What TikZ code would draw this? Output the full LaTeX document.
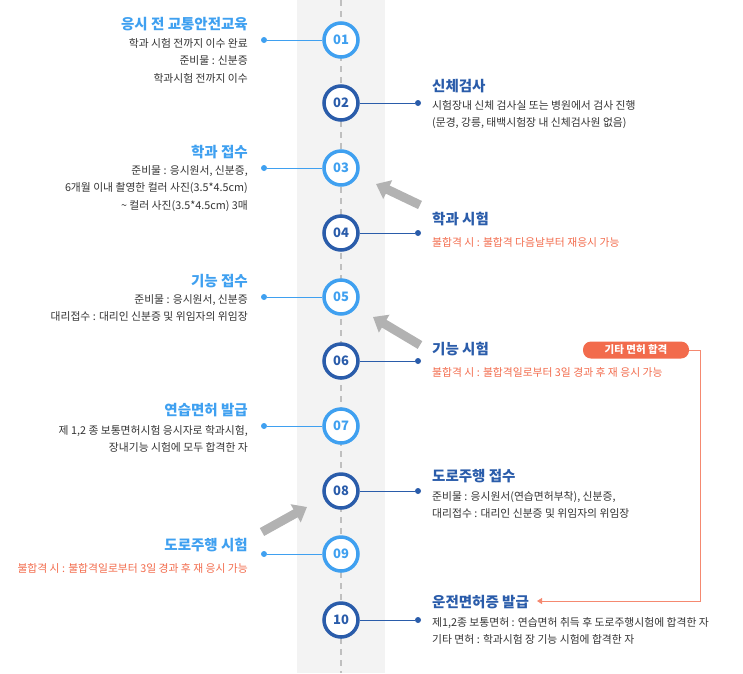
\documentclass[tikz,border=0pt]{standalone}
\usepackage{fontspec}
\setmainfont{Noto Sans CJK KR}
\usetikzlibrary{arrows.meta}
\definecolor{lblue}{HTML}{3FA0F0}
\definecolor{dblue}{HTML}{2A5CAA}
\definecolor{ored}{HTML}{F26B4C}
\definecolor{band}{HTML}{F3F3F3}
\tikzset{
  stepodd/.style={circle,draw=lblue,line width=3.5pt,fill=white,minimum size=34pt,text=lblue,font=\bfseries\fontsize{13}{13}\selectfont},
  stepeven/.style={circle,draw=dblue,line width=3.5pt,fill=white,minimum size=34pt,text=dblue,font=\bfseries\fontsize{13}{13}\selectfont},
  dotnode/.style={circle,fill,inner sep=0pt,minimum size=6pt},
  ttl/.style={font=\fontsize{14.5}{16}\selectfont\bfseries,inner sep=0pt},
  txt/.style={font=\fontsize{10.8}{17.5}\selectfont,text=black!80,inner sep=0pt,align=#1},
  bigarrow/.style={-{Triangle[length=13pt,width=20pt]},line width=9pt,draw=black!30}
}
\begin{document}
\begin{tikzpicture}[x=1pt,y=-1pt]
\useasboundingbox (0,0) rectangle (743,673);
\fill[band] (297,0) rectangle (385,673);
\draw[black!25,line width=2pt,dash pattern=on 6pt off 5pt] (341,0) -- (341,673);
% steps
\foreach \n/\y/\s in {01/40/stepodd,02/103/stepeven,03/168/stepodd,04/233/stepeven,05/297/stepodd,06/361/stepeven,07/426/stepodd,08/491/stepeven,09/554/stepodd,10/620/stepeven}
  \node[\s] (s\n) at (341,\y) {\n};
% left side
\foreach \n/\y in {01/40,03/168,05/297,07/426,09/554}{
  \node[dotnode,lblue] (d\n) at (264,\y) {};
  \draw[lblue,line width=1pt] (d\n) -- (s\n);
}
\foreach \n/\y in {02/103,04/233,06/361,08/491,10/620}{
  \node[dotnode,dblue] (d\n) at (418,\y) {};
  \draw[dblue,line width=1pt] (s\n) -- (d\n);
}
\node[ttl,text=lblue,anchor=east] (t01) at (248,24) {응시 전 교통안전교육};
\node[txt=right,anchor=north east] (b01) at (248,38) {학과 시험 전까지 이수 완료\\준비물 : 신분증\\학과시험 전까지 이수};
\node[ttl,text=dblue,anchor=west] (t02) at (432,86) {신체검사};
\node[txt=left,anchor=north west] (b02) at (432,100) {시험장내 신체 검사실 또는 병원에서 검사 진행\\(문경, 강릉, 태백시험장 내 신체검사원 없음)};
\node[ttl,text=lblue,anchor=east] (t03) at (248,152) {학과 접수};
\node[txt=right,anchor=north east] (b03) at (248,165) {준비물 : 응시원서, 신분증,\\6개월 이내 촬영한 컬러 사진(3.5*4.5cm)\\\textasciitilde{} 컬러 사진(3.5*4.5cm) 3매};
\node[ttl,text=dblue,anchor=west] (t04) at (432,219) {학과 시험};
\node[txt=left,text=ored,anchor=west] (b04) at (432,242) {불합격 시 : 불합격 다음날부터 재응시 가능};
\node[ttl,text=lblue,anchor=east] (t05) at (248,281) {기능 접수};
\node[txt=right,anchor=north east] (b05) at (248,294) {준비물 : 응시원서, 신분증\\대리접수 : 대리인 신분증 및 위임자의 위임장};
\node[ttl,text=dblue,anchor=west] (t06) at (432,349) {기능 시험};
\node[txt=left,text=ored,anchor=west] (b06) at (432,372) {불합격 시 : 불합격일로부터 3일 경과 후 재 응시 가능};
\node[ttl,text=lblue,anchor=east] (t07) at (248,410) {연습면허 발급};
\node[txt=right,anchor=north east] (b07) at (248,425) {제 1,2 종 보통면허시험 응시자로 학과시험,\\장내기능 시험에 모두 합격한 자};
\node[ttl,text=dblue,anchor=west] (t08) at (432,476) {도로주행 접수};
\node[txt=left,anchor=north west] (b08) at (432,491) {준비물 : 응시원서(연습면허부착), 신분증,\\대리접수 : 대리인 신분증 및 위임자의 위임장};
\node[ttl,text=lblue,anchor=east] (t09) at (248,545) {도로주행 시험};
\node[txt=right,text=ored,anchor=east] (b09) at (248,568) {불합격 시 : 불합격일로부터 3일 경과 후 재 응시 가능};
\node[ttl,text=dblue,anchor=west] (t10) at (432,602) {운전면허증 발급};
\node[txt=left,anchor=north west] (b10) at (432,617) {제1,2종 보통면허 : 연습면허 취득 후 도로주행시험에 합격한 자\\기타 면허 : 학과시험 장 기능 시험에 합격한 자};
% other licence
\node[fill=ored,text=white,rounded corners=8pt,minimum width=106pt,minimum height=17pt,inner sep=0pt,font=\fontsize{10.5}{11}\selectfont\bfseries] (etc) at (636,350) {기타 면허 합격};
\coordinate (c1) at (700,350);
\coordinate (c2) at (700,601);
\coordinate (c3) at (537,601);
\draw[ored!80,line width=0.8pt,-{Triangle[length=5pt,width=6pt]}] (etc.east) -- (c1) -- (c2) -- (c3);
% gray arrows
\coordinate (g1) at (420,205); \coordinate (g1e) at (376,184);
\coordinate (g2) at (420,345); \coordinate (g2e) at (373,317);
\coordinate (g3) at (262,532); \coordinate (g3e) at (307,507);
\draw[bigarrow] (g1) -- (g1e);
\draw[bigarrow] (g2) -- (g2e);
\draw[bigarrow] (g3) -- (g3e);
\end{tikzpicture}
\end{document}
